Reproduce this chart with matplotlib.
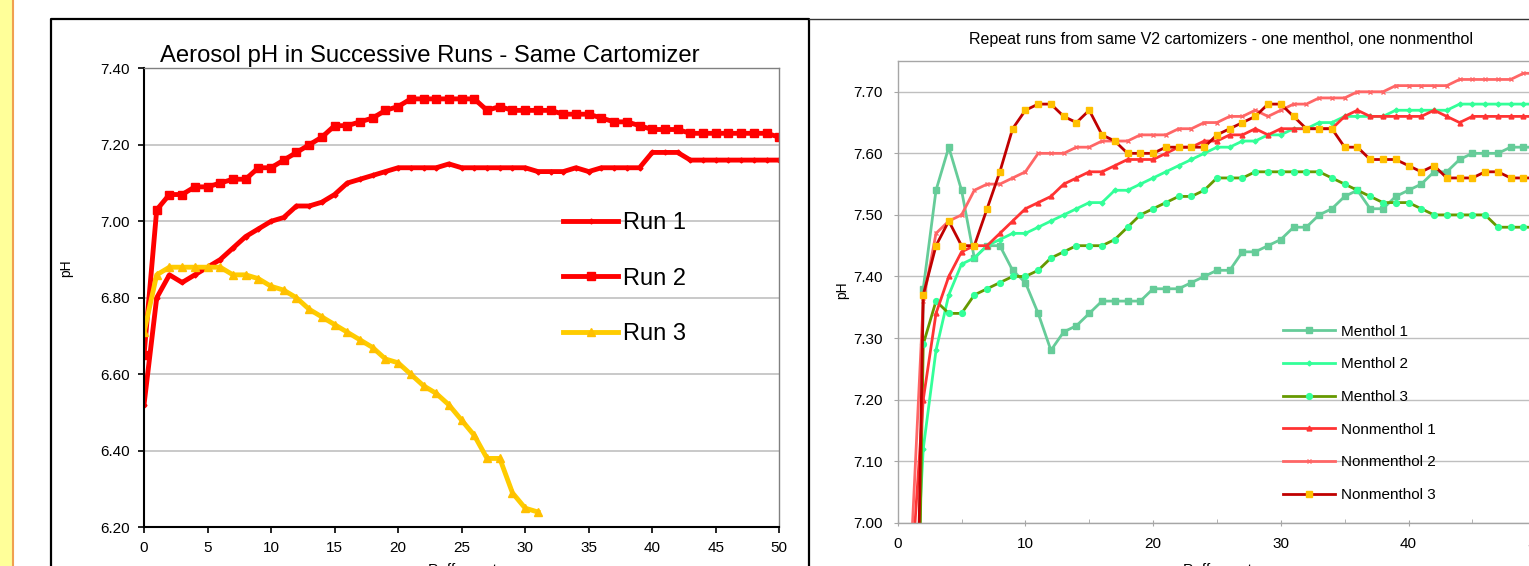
import matplotlib
matplotlib.use('Agg')
import matplotlib.pyplot as plt
from matplotlib.lines import Line2D
from matplotlib.patches import Rectangle
from matplotlib.ticker import MultipleLocator, FormatStrFormatter
import numpy as np

plt.rcParams['font.family'] = ['Liberation Sans', 'DejaVu Sans']

# ---- left chart data: pH per puff, three runs ----
puffs_left = list(range(0, 51))
run1 = [6.52, 6.80, 6.86, 6.84, 6.86, 6.88, 6.90, 6.93, 6.96, 6.98,
        7.00, 7.01, 7.04, 7.04, 7.05, 7.07, 7.10, 7.11, 7.12, 7.13,
        7.14, 7.14, 7.14, 7.14, 7.15, 7.14, 7.14, 7.14, 7.14, 7.14,
        7.14, 7.13, 7.13, 7.13, 7.14, 7.13, 7.14, 7.14, 7.14, 7.14,
        7.18, 7.18, 7.18, 7.16, 7.16, 7.16, 7.16, 7.16, 7.16, 7.16, 7.16]
run2 = [6.65, 7.03, 7.07, 7.07, 7.09, 7.09, 7.10, 7.11, 7.11, 7.14,
        7.14, 7.16, 7.18, 7.20, 7.22, 7.25, 7.25, 7.26, 7.27, 7.29,
        7.30, 7.32, 7.32, 7.32, 7.32, 7.32, 7.32, 7.29, 7.30, 7.29,
        7.29, 7.29, 7.29, 7.28, 7.28, 7.28, 7.27, 7.26, 7.26, 7.25,
        7.24, 7.24, 7.24, 7.23, 7.23, 7.23, 7.23, 7.23, 7.23, 7.23, 7.22]
run3 = [6.71, 6.86, 6.88, 6.88, 6.88, 6.88, 6.88, 6.86, 6.86, 6.85,
        6.83, 6.82, 6.80, 6.77, 6.75, 6.73, 6.71, 6.69, 6.67, 6.64,
        6.63, 6.60, 6.57, 6.55, 6.52, 6.48, 6.44, 6.38, 6.38, 6.29,
        6.25, 6.24]

# ---- right chart data: menthol / nonmenthol cartomizers (puff 1 is below the axis) ----
puffs_right = list(range(1, 51))
menthol1 = [5.90, 7.38, 7.54, 7.61, 7.54, 7.43, 7.45, 7.45, 7.41, 7.39,
            7.34, 7.28, 7.31, 7.32, 7.34, 7.36, 7.36, 7.36, 7.36, 7.38,
            7.38, 7.38, 7.39, 7.40, 7.41, 7.41, 7.44, 7.44, 7.45, 7.46,
            7.48, 7.48, 7.50, 7.51, 7.53, 7.54, 7.51, 7.51, 7.53, 7.54,
            7.55, 7.57, 7.57, 7.59, 7.60, 7.60, 7.60, 7.61, 7.61, 7.61]
menthol2 = [6.73, 7.12, 7.28, 7.37, 7.42, 7.43, 7.45, 7.46, 7.47, 7.47,
            7.48, 7.49, 7.50, 7.51, 7.52, 7.52, 7.54, 7.54, 7.55, 7.56,
            7.57, 7.58, 7.59, 7.60, 7.61, 7.61, 7.62, 7.62, 7.63, 7.63,
            7.64, 7.64, 7.65, 7.65, 7.66, 7.66, 7.66, 7.66, 7.67, 7.67,
            7.67, 7.67, 7.67, 7.68, 7.68, 7.68, 7.68, 7.68, 7.68, 7.68]
menthol3 = [6.00, 7.29, 7.36, 7.34, 7.34, 7.37, 7.38, 7.39, 7.40, 7.40,
            7.41, 7.43, 7.44, 7.45, 7.45, 7.45, 7.46, 7.48, 7.50, 7.51,
            7.52, 7.53, 7.53, 7.54, 7.56, 7.56, 7.56, 7.57, 7.57, 7.57,
            7.57, 7.57, 7.57, 7.56, 7.55, 7.54, 7.53, 7.52, 7.52, 7.52,
            7.51, 7.50, 7.50, 7.50, 7.50, 7.50, 7.48, 7.48, 7.48, 7.48]
nonmenthol1 = [6.89, 7.20, 7.34, 7.40, 7.44, 7.45, 7.45, 7.47, 7.49, 7.51,
               7.52, 7.53, 7.55, 7.56, 7.57, 7.57, 7.58, 7.59, 7.59, 7.59,
               7.60, 7.61, 7.61, 7.62, 7.62, 7.63, 7.63, 7.64, 7.63, 7.64,
               7.64, 7.64, 7.64, 7.64, 7.66, 7.67, 7.66, 7.66, 7.66, 7.66,
               7.66, 7.67, 7.66, 7.65, 7.66, 7.66, 7.66, 7.66, 7.66, 7.66]
nonmenthol2 = [6.93, 7.36, 7.47, 7.49, 7.50, 7.54, 7.55, 7.55, 7.56, 7.57,
               7.60, 7.60, 7.60, 7.61, 7.61, 7.62, 7.62, 7.62, 7.63, 7.63,
               7.63, 7.64, 7.64, 7.65, 7.65, 7.66, 7.66, 7.67, 7.66, 7.67,
               7.68, 7.68, 7.69, 7.69, 7.69, 7.70, 7.70, 7.70, 7.71, 7.71,
               7.71, 7.71, 7.71, 7.72, 7.72, 7.72, 7.72, 7.72, 7.73, 7.73]
nonmenthol3 = [6.20, 7.37, 7.45, 7.49, 7.45, 7.45, 7.51, 7.57, 7.64, 7.67,
               7.68, 7.68, 7.66, 7.65, 7.67, 7.63, 7.62, 7.60, 7.60, 7.60,
               7.61, 7.61, 7.61, 7.61, 7.63, 7.64, 7.65, 7.66, 7.68, 7.68,
               7.66, 7.64, 7.64, 7.64, 7.61, 7.61, 7.59, 7.59, 7.59, 7.58,
               7.57, 7.58, 7.56, 7.56, 7.56, 7.57, 7.57, 7.56, 7.56, 7.56]

W, H = 1529, 566


def fx(px):
    return px / W


def fy(py):
    return 1 - py / H


fig = plt.figure(figsize=(W / 100, H / 100), dpi=100, facecolor='white')

# page decorations: yellow strip and chart boxes
fig.patches.append(Rectangle((0, 0), fx(12), 1, transform=fig.transFigure,
                             facecolor='#FFFF99', edgecolor='none', zorder=0))
fig.lines.append(Line2D([fx(13), fx(13)], [0, 1], transform=fig.transFigure,
                        color='#F0A050', lw=1.5))
fig.lines.append(Line2D([fx(51), fx(51), fx(809), fx(809)], [0, fy(19), fy(19), 0],
                        transform=fig.transFigure, color='black', lw=1.6))
fig.lines.append(Line2D([fx(809), 1], [fy(19), fy(19)], transform=fig.transFigure,
                        color='#333333', lw=1.0))

# ---------------- left chart ----------------
ax = fig.add_axes([fx(144), fy(527.3), (779.3 - 144) / W, (527.3 - 68.3) / H])
ax.plot(puffs_left, run1, color='#FF0000', lw=3.5, marker='D', ms=2.5, label='Run 1')
ax.plot(puffs_left, run2, color='#FF0000', lw=3.5, marker='s', ms=5.5, label='Run 2')
ax.plot(puffs_left[:len(run3)], run3, color='#FFCC00', lw=3.5, marker='^', ms=5.5,
        mfc='#FFC000', mec='#FFC000', label='Run 3')
ax.set_xlim(0, 50)
ax.set_ylim(6.2, 7.4)
ax.xaxis.set_major_locator(MultipleLocator(5))
ax.yaxis.set_major_locator(MultipleLocator(0.2))
ax.yaxis.set_major_formatter(FormatStrFormatter('%.2f'))
ax.grid(axis='y', color='#C0C0C0', lw=1.2)
ax.set_axisbelow(True)
ax.tick_params(labelsize=11, length=4, width=1.2, pad=6)
for sp in ['left', 'bottom']:
    ax.spines[sp].set_linewidth(1.5)
for sp in ['top', 'right']:
    ax.spines[sp].set_color('#808080')
    ax.spines[sp].set_linewidth(1.0)
ax.legend(loc='center left', bbox_to_anchor=(0.6595, 0.5415), frameon=False,
          fontsize=17, handlelength=2.35, handletextpad=0.18, labelspacing=1.42,
          borderpad=0, borderaxespad=0)
fig.text(fx(430), fy(62), 'Aerosol pH in Successive Runs - Same Cartomizer',
         fontsize=17.2, ha='center', va='baseline')
fig.text(fx(66), fy(268), 'pH', fontsize=10, rotation=90, ha='center', va='center')
fig.text(fx(462), fy(574), 'Puff count', fontsize=11, ha='center', va='baseline')

# ---------------- right chart ----------------
ax2 = fig.add_axes([fx(897.7), fy(522.7), (1536.2 - 897.7) / W, (522.7 - 61) / H])
series = [
    (menthol1, 'Menthol 1', dict(color='#66CC99', marker='s', ms=4.5)),
    (menthol2, 'Menthol 2', dict(color='#33FF99', marker='D', ms=2.5)),
    (menthol3, 'Menthol 3', dict(color='#669900', marker='o', ms=4.2,
                                 mfc='#33FF99', mec='#33FF99')),
    (nonmenthol1, 'Nonmenthol 1', dict(color='#FF3333', marker='^', ms=3.5)),
    (nonmenthol2, 'Nonmenthol 2', dict(color='#FF6666', marker='x', ms=2.5)),
    (nonmenthol3, 'Nonmenthol 3', dict(color='#C00000', marker='s', ms=5,
                                       mfc='#FFC000', mec='#FFC000')),
]
for vals, name, style in series:
    ax2.plot(puffs_right, vals, lw=2.0, label=name, **style)
ax2.set_xlim(0, 50)
ax2.set_ylim(7.0, 7.75)
ax2.xaxis.set_major_locator(MultipleLocator(10))
ax2.xaxis.set_minor_locator(MultipleLocator(5))
ax2.set_yticks(np.arange(7.0, 7.71, 0.1))
ax2.yaxis.set_major_formatter(FormatStrFormatter('%.2f'))
ax2.grid(axis='y', color='#BFBFBF', lw=1.0)
ax2.set_axisbelow(True)
for sp in ax2.spines.values():
    sp.set_color('#A6A6A6')
    sp.set_linewidth(1.0)
ax2.tick_params(axis='y', labelsize=11, length=3, color='#A6A6A6', pad=8)
ax2.tick_params(axis='x', which='major', labelsize=11, length=4, direction='inout',
                color='#A6A6A6', pad=8)
ax2.tick_params(axis='x', which='minor', length=3, direction='in', color='#A6A6A6')
ax2.legend(loc='center left', bbox_to_anchor=(0.604, 0.2368), frameon=False,
           fontsize=11, handlelength=3.4, handletextpad=0.35, labelspacing=1.22,
           borderpad=0, borderaxespad=0)
fig.text(fx(1221), fy(44), 'Repeat runs from same V2 cartomizers - one menthol, one nonmenthol',
         fontsize=11.5, ha='center', va='baseline')
fig.text(fx(842), fy(290), 'pH', fontsize=10, rotation=90, ha='center', va='center')
fig.text(fx(1217), fy(574), 'Puff count', fontsize=11, ha='center', va='baseline')

fig.savefig('out.png', dpi=100, facecolor='white')
